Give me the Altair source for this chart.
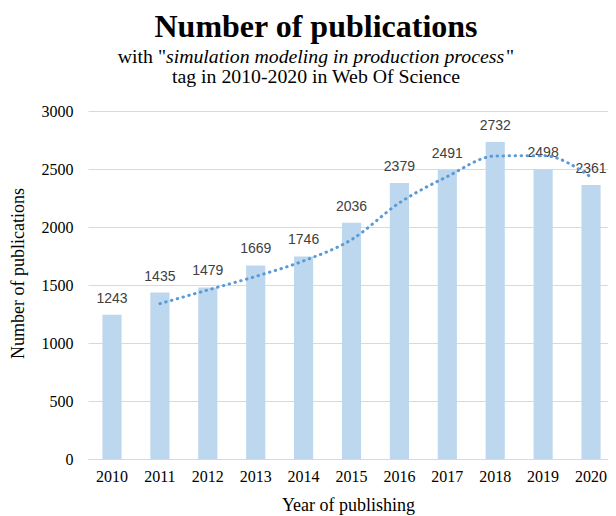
import altair as alt
import pandas as pd

years = ["2010", "2011", "2012", "2013", "2014", "2015", "2016", "2017", "2018", "2019", "2020"]
counts = [1243, 1435, 1479, 1669, 1746, 2036, 2379, 2491, 2732, 2498, 2361]
# 2-period moving-average trendline as drawn in the reference (starts at 2011)
trend_years = ["2011", "2012", "2013", "2014", "2015", "2016", "2017", "2018", "2019", "2020"]
trend_values = [1339, 1457, 1574, 1708, 1891, 2208, 2435, 2612, 2615, 2430]

df = pd.DataFrame({"year": years, "count": counts})
tdf = pd.DataFrame({"year": trend_years, "trend": trend_values})

SERIF = "Liberation Serif"

x_enc = alt.X(
    "year:N",
    sort=years,
    scale=alt.Scale(paddingInner=0.6, paddingOuter=0.2276, align=0.661),
    axis=alt.Axis(
        title="Year of publishing",
        labelAngle=0,
        labelFont=SERIF,
        labelFontSize=16,
        labelColor="#000000",
        labelPadding=9,
        ticks=False,
        domain=True,
        domainColor="#d9d9d9",
        domainWidth=1,
        grid=False,
        titleFont=SERIF,
        titleFontSize=18,
        titleFontWeight="normal",
        titleColor="#000000",
        titleY=51,
        titleBaseline="alphabetic",
    ),
)

y_enc = alt.Y(
    "count:Q",
    scale=alt.Scale(domain=[0, 3000]),
    axis=alt.Axis(
        title="Number of publications",
        values=[0, 500, 1000, 1500, 2000, 2500, 3000],
        format="d",
        labelFont=SERIF,
        labelFontSize=16,
        labelColor="#000000",
        labelPadding=15,
        ticks=False,
        domain=False,
        grid=True,
        gridColor="#d9d9d9",
        gridWidth=1,
        titleFont=SERIF,
        titleFontSize=18,
        titleFontWeight="normal",
        titleColor="#000000",
        titleX=-70,
        titleY=162,
        titleAlign="center",
        titleBaseline="middle",
    ),
)

base = alt.Chart(df)
bars = base.mark_bar(color="#bdd7ee").encode(x=x_enc, y=y_enc)
labels = base.mark_text(
    font="Liberation Sans", fontSize=14, color="#404040", baseline="alphabetic", dy=-12
).encode(x=alt.X("year:N", sort=years), y="count:Q", text="count:Q")

line = alt.Chart(tdf).mark_line(
    color="#5b9bd5", strokeWidth=3, strokeDash=[0.5, 5.5], strokeCap="round", interpolate="monotone"
).encode(x=alt.X("year:N", sort=years), y=alt.Y("trend:Q"))

def txt(s, x, y, size, weight="normal", style="normal", align="center"):
    return alt.Chart(pd.DataFrame({"t": [s]})).mark_text(
        font=SERIF, fontSize=size, fontWeight=weight, fontStyle=style,
        align=align, baseline="alphabetic", color="#000000"
    ).encode(x=alt.value(x), y=alt.value(y), text="t:N")

title = txt("Number of publications", 228, -74, 32, weight="bold")
sub1a = txt('with "', 78, -48, 19.8, align="right")
sub1b = txt("simulation modeling in production process", 78, -48, 19.8, style="italic", align="left")
sub1c = txt('"', 418, -48, 19.8, align="left")
sub2 = txt("tag in 2010-2020 in Web Of Science", 228, -28, 19.8)

chart = alt.layer(bars, labels, line, title, sub1a, sub1b, sub1c, sub2).properties(
    width=520,
    height=348,
    padding={"left": 80, "top": 103, "right": 0, "bottom": 57},
    autosize=alt.AutoSizeParams(type="none"),
).configure_view(stroke=None)

chart.save("out.html", embed_options={"renderer": "svg", "actions": False})
